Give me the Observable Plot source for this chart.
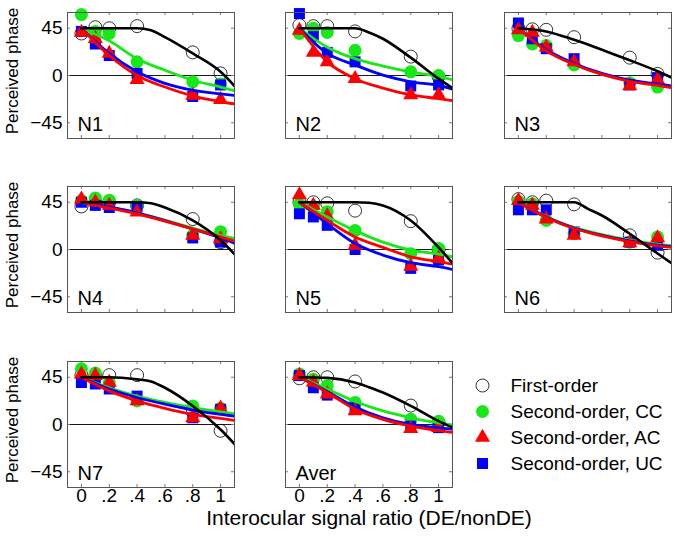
<!DOCTYPE html>
<html><head><meta charset="utf-8">
<script src="https://cdn.jsdelivr.net/npm/d3@7"></script>
<script src="https://cdn.jsdelivr.net/npm/@observablehq/plot@0.6"></script>
<style>
body{margin:0;background:#fff;}
#fig{position:relative;width:676px;height:542px;overflow:hidden;background:#fff;font-family:"Liberation Sans",Arial,Helvetica,sans-serif;}
#fig svg{position:absolute;overflow:visible;}
.ylab{position:absolute;width:140px;height:20px;line-height:20px;text-align:center;font-size:17px;color:#000;transform:rotate(-90deg);transform-origin:50% 50%;white-space:nowrap;}
</style></head><body><div id="fig"></div>
<script>
// ---------------- data ----------------
const panels = ["N1", "N2", "N3", "N4", "N5", "N6", "N7", "Aver"];
const ratios = [0, 0.1, 0.2, 0.4, 0.8, 1.0];
const xTicks = [0, 0.2, 0.4, 0.6, 0.8, 1];
const xTickLabels = ["0", ".2", ".4", ".6", ".8", "1"];
const yTicks = [-45, 0, 45];
const yTickLabels = ["\u221245", "0", "45"];
const seriesNames = ["First-order", "Second-order, CC", "Second-order, AC", "Second-order, UC"];
const yTitle = "Perceived phase";
const xTitle = "Interocular signal ratio (DE/nonDE)";

// measured points (rows follow panel order)
const ptsFirst = [
  [40, 46, 45, 47, 22, 2],
  [48, 47, 47, 42, 18, -1],
  [45, 44, 43.5, 36.5, 17, 1.5],
  [41, 45, 45, 42, 29, 7],
  [45, 45, 44, 37, 27, 0],
  [48, 45, 46.5, 43, 13.5, -3],
  [47, 46, 47, 47, 12, -6],
  [44, 45, 45, 41, 18, 2]
];
const ptsCC = [
  [58, 42, 40, 13, -6, -8],
  [40, 45, 41, 24, 3.5, 0],
  [38, 30, 28.5, 10, -7, -11],
  [46.5, 49, 47, 42, 13.5, 17],
  [43, 41, 36, 18, -4, 1],
  [46, 43.5, 27.7, 15, 7, 12],
  [53, 49, 40, 22.5, 17.7, 15.4],
  [48, 43, 37, 21, 5, 3]
];
const ptsAC = [
  [41, 35, 21, -4, -19, -23],
  [43, 22, 13, -3, -18.5, -18.5],
  [43.5, 41, 27, 13, -10, -4],
  [48, 45, 42, 35.5, 13.5, 10],
  [52, 42, 32, 4, -16, -8.5],
  [46.5, 42, 29, 13.5, 6.4, 11],
  [48, 46.6, 40, 22.5, 6.4, 15.4],
  [46.6, 40, 29, 13, -4, -3]
];
const ptsUC = [
  [42, 30, 19, 2, -20, -9],
  [59, 37, 22, 13, -10, -9],
  [50, 35, 25.5, 16, -9, -2],
  [45, 42, 40, 41, 11, 7],
  [34, 31, 23, 0, -18, -10],
  [37.8, 37.8, 37.8, 16.7, 7, 4],
  [40, 38.6, 33.8, 27, 6.4, 14.5],
  [46.6, 35, 28, 16, -1.6, -3]
];

// fitted curves
const fitXFirst = [0, 0.2, 0.4, 0.5, 0.6, 0.8, 1.0, 1.1];
const fitFirst = [
  [45, 45, 45, 43, 36.5, 21, 3.5, -10],
  [45, 45, 45, 41, 35, 17, -3, -12],
  [45, 42, 34, 29.5, 24.5, 14.5, 4, -2],
  [45, 45, 45, 44, 40, 27.7, 8.8, -4.4],
  [45, 45, 45, 44.5, 42, 27.7, 2, -13],
  [45, 45, 45, 38.7, 32.4, 15, -3.8, -13],
  [45, 45, 43, 41, 35, 17.7, -4.8, -18.6],
  [45, 44.4, 40, 35.5, 30.5, 17.7, 3.2, -3]
];
const fitX = [0, 0.2, 0.4, 0.6, 0.8, 1.0, 1.1];
const fitCC = [
  [45, 33, 16, 5, -4.5, -11, -14.5],
  [45, 27, 16, 9, 3.5, -1, -4],
  [45, 24, 11, 1.3, -5, -9, -11],
  [45, 40, 35, 28, 20.5, 13.5, 10.5],
  [45, 31, 18, 7, -0.6, -4.4, -7],
  [45, 31.5, 21, 14.2, 9, 5, 3.5],
  [45, 35, 27, 21, 16, 12, 10.3],
  [45, 33.8, 21.9, 12.9, 6.4, 1.6, -0.5]
];
const fitAC = [
  [45, 19, 0, -11, -19.5, -25, -27],
  [45, 13, -3, -12, -18.5, -22, -24],
  [45, 23.5, 10.5, 1, -5.5, -9.5, -11.5],
  [45, 39.5, 34, 27, 19.5, 12, 8],
  [45, 27.7, 12, 2, -7, -11.6, -14],
  [45, 30.5, 20, 13, 7.5, 3.5, 2],
  [45, 32, 22.5, 15.4, 9.6, 5.8, 3.9],
  [45, 30.5, 14.5, 4.8, -1.6, -5.8, -7.5]
];
const fitUC = [
  [45, 21, 3.5, -7.5, -14, -17.5, -19],
  [45, 21, 10, 0.3, -6, -9.5, -13],
  [45, 24.5, 11.5, 2, -4.5, -8, -10],
  [45, 40.5, 35, 27.5, 19.5, 11, 6],
  [45, 24.5, 5.7, -5.3, -12.6, -16.4, -19],
  [45, 31, 20.5, 13.5, 8.2, 4.1, 2.7],
  [45, 33.8, 25.7, 19.3, 13.8, 9.6, 8],
  [45, 31.5, 16.7, 6.4, 0, -3.2, -4.5]
];

// ---------------- styles / layout ----------------
const FONT = '"Liberation Sans", Arial, Helvetica, sans-serif';
const GREEN = "#18e818", RED = "#ff0000", BLUE = "#0000ff";
const markStyles = [
  {symbol: "circle", r: 6.5, fill: "none", stroke: "#000", strokeWidth: 0.8},
  {symbol: "circle", r: 6.5, fill: GREEN, stroke: "none"},
  {symbol: "triangle", r: 5.6, fill: RED, stroke: "none"},
  {symbol: "square", r: 6.2, fill: BLUE, stroke: "none"}
];
const colX = [67, 285, 504];
const rowY = [12, 186, 361];
const W = 167, H = 126;
const mL = 70, mR = 6, mT = 6, mB = 56;
const fig = document.getElementById("fig");

function tidyPts(arr, i) { return ratios.map((x, j) => ({x, y: arr[i][j]})); }
function tidyFit(xs, arr, i) { return xs.map((x, j) => ({x, y: arr[i][j]})); }

panels.forEach((name, i) => {
  const col = i % 3, row = Math.floor(i / 3);
  const marks = [];
  marks.push(Plot.ruleY([0], {stroke: "#000", strokeWidth: 0.9}));
  // inward ticks on all four sides
  marks.push(Plot.tickX(xTicks, {x: d => d, insetTop: H - 3, stroke: "#777"}));
  marks.push(Plot.tickX(xTicks, {x: d => d, insetBottom: H - 3, stroke: "#777"}));
  marks.push(Plot.tickY(yTicks, {y: d => d, insetRight: W - 3, stroke: "#777"}));
  marks.push(Plot.tickY(yTicks, {y: d => d, insetLeft: W - 3, stroke: "#777"}));
  // points
  const ptsAll = [ptsFirst, ptsCC, ptsUC, ptsAC];
  const styleIdx = [0, 1, 3, 2];
  ptsAll.forEach((arr, k) => {
    const s = markStyles[styleIdx[k]];
    marks.push(Plot.dot(tidyPts(arr, i), {x: "x", y: "y", symbol: s.symbol, r: s.r, fill: s.fill, stroke: s.stroke, strokeWidth: s.strokeWidth || 1}));
  });
  // fitted lines
  [[fitCC, GREEN], [fitUC, BLUE], [fitAC, RED]].forEach(([arr, c]) => {
    marks.push(Plot.line(tidyFit(fitX, arr, i), {x: "x", y: "y", stroke: c, strokeWidth: 2.8, curve: "monotone-x", clip: true}));
  });
  marks.push(Plot.line(tidyFit(fitXFirst, fitFirst, i), {x: "x", y: "y", stroke: "#000", strokeWidth: 2.6, curve: "monotone-x", clip: true}));
  marks.push(Plot.frame({stroke: "#555", strokeWidth: 1}));
  // panel name
  marks.push(Plot.text([name], {text: d => d, frameAnchor: "bottom-left", dx: 10, dy: -8, textAnchor: "start", lineAnchor: "bottom", fontSize: 20, fill: "#000"}));
  if (col === 0) {
    marks.push(Plot.text(yTicks, {y: d => d, text: (d, j) => yTickLabels[j], frameAnchor: "left", dx: -5, textAnchor: "end", fontSize: 19, fill: "#000"}));
  }
  if (row === 2) {
    marks.push(Plot.text(xTicks, {x: d => d, text: (d, j) => xTickLabels[j], frameAnchor: "bottom", dy: 14.5, fontSize: 19, fill: "#000"}));
  }
  if (name === "Aver") {
    marks.push(Plot.text([xTitle], {text: d => d, frameAnchor: "bottom", dy: 37, fontSize: 21, fill: "#000"}));
  }
  const chart = Plot.plot({
    width: W + mL + mR, height: H + mT + mB,
    marginLeft: mL, marginRight: mR, marginTop: mT, marginBottom: mB,
    x: {domain: [-0.1, 1.1], axis: null},
    y: {domain: [-60, 60], axis: null},
    style: {background: "transparent", fontFamily: FONT, fontSize: "19px", color: "#000", overflow: "visible"},
    marks
  });
  chart.style.left = (colX[col] - mL) + "px";
  chart.style.top = (rowY[row] - mT) + "px";
  fig.appendChild(chart);
});

// rotated y-axis titles, one per row
rowY.forEach(top => {
  const d = document.createElement("div");
  d.className = "ylab";
  d.textContent = yTitle;
  const cy = top + H / 2 - 4;
  d.style.left = (13 - 70) + "px";
  d.style.top = (cy - 10) + "px";
  fig.appendChild(d);
});

// legend
const legendMarks = seriesNames.map((s, k) => {
  const st = markStyles[k];
  return Plot.dot([s], {y: d => d, frameAnchor: "left", dx: 12, symbol: st.symbol, r: st.r, fill: st.fill, stroke: st.stroke, strokeWidth: st.strokeWidth || 1});
});
legendMarks.push(Plot.text(seriesNames, {y: d => d, text: d => d, frameAnchor: "left", dx: 40, textAnchor: "start", fontSize: 19, fill: "#000"}));
const legend = Plot.plot({
  width: 206, height: 100, margin: 0,
  y: {type: "point", domain: seriesNames, range: [10, 89], padding: 0, axis: null},
  style: {background: "transparent", fontFamily: FONT, fontSize: "19px", color: "#000", overflow: "visible"},
  marks: legendMarks
});
legend.style.left = "470px";
legend.style.top = "374px";
fig.appendChild(legend);
</script>
</body></html>
